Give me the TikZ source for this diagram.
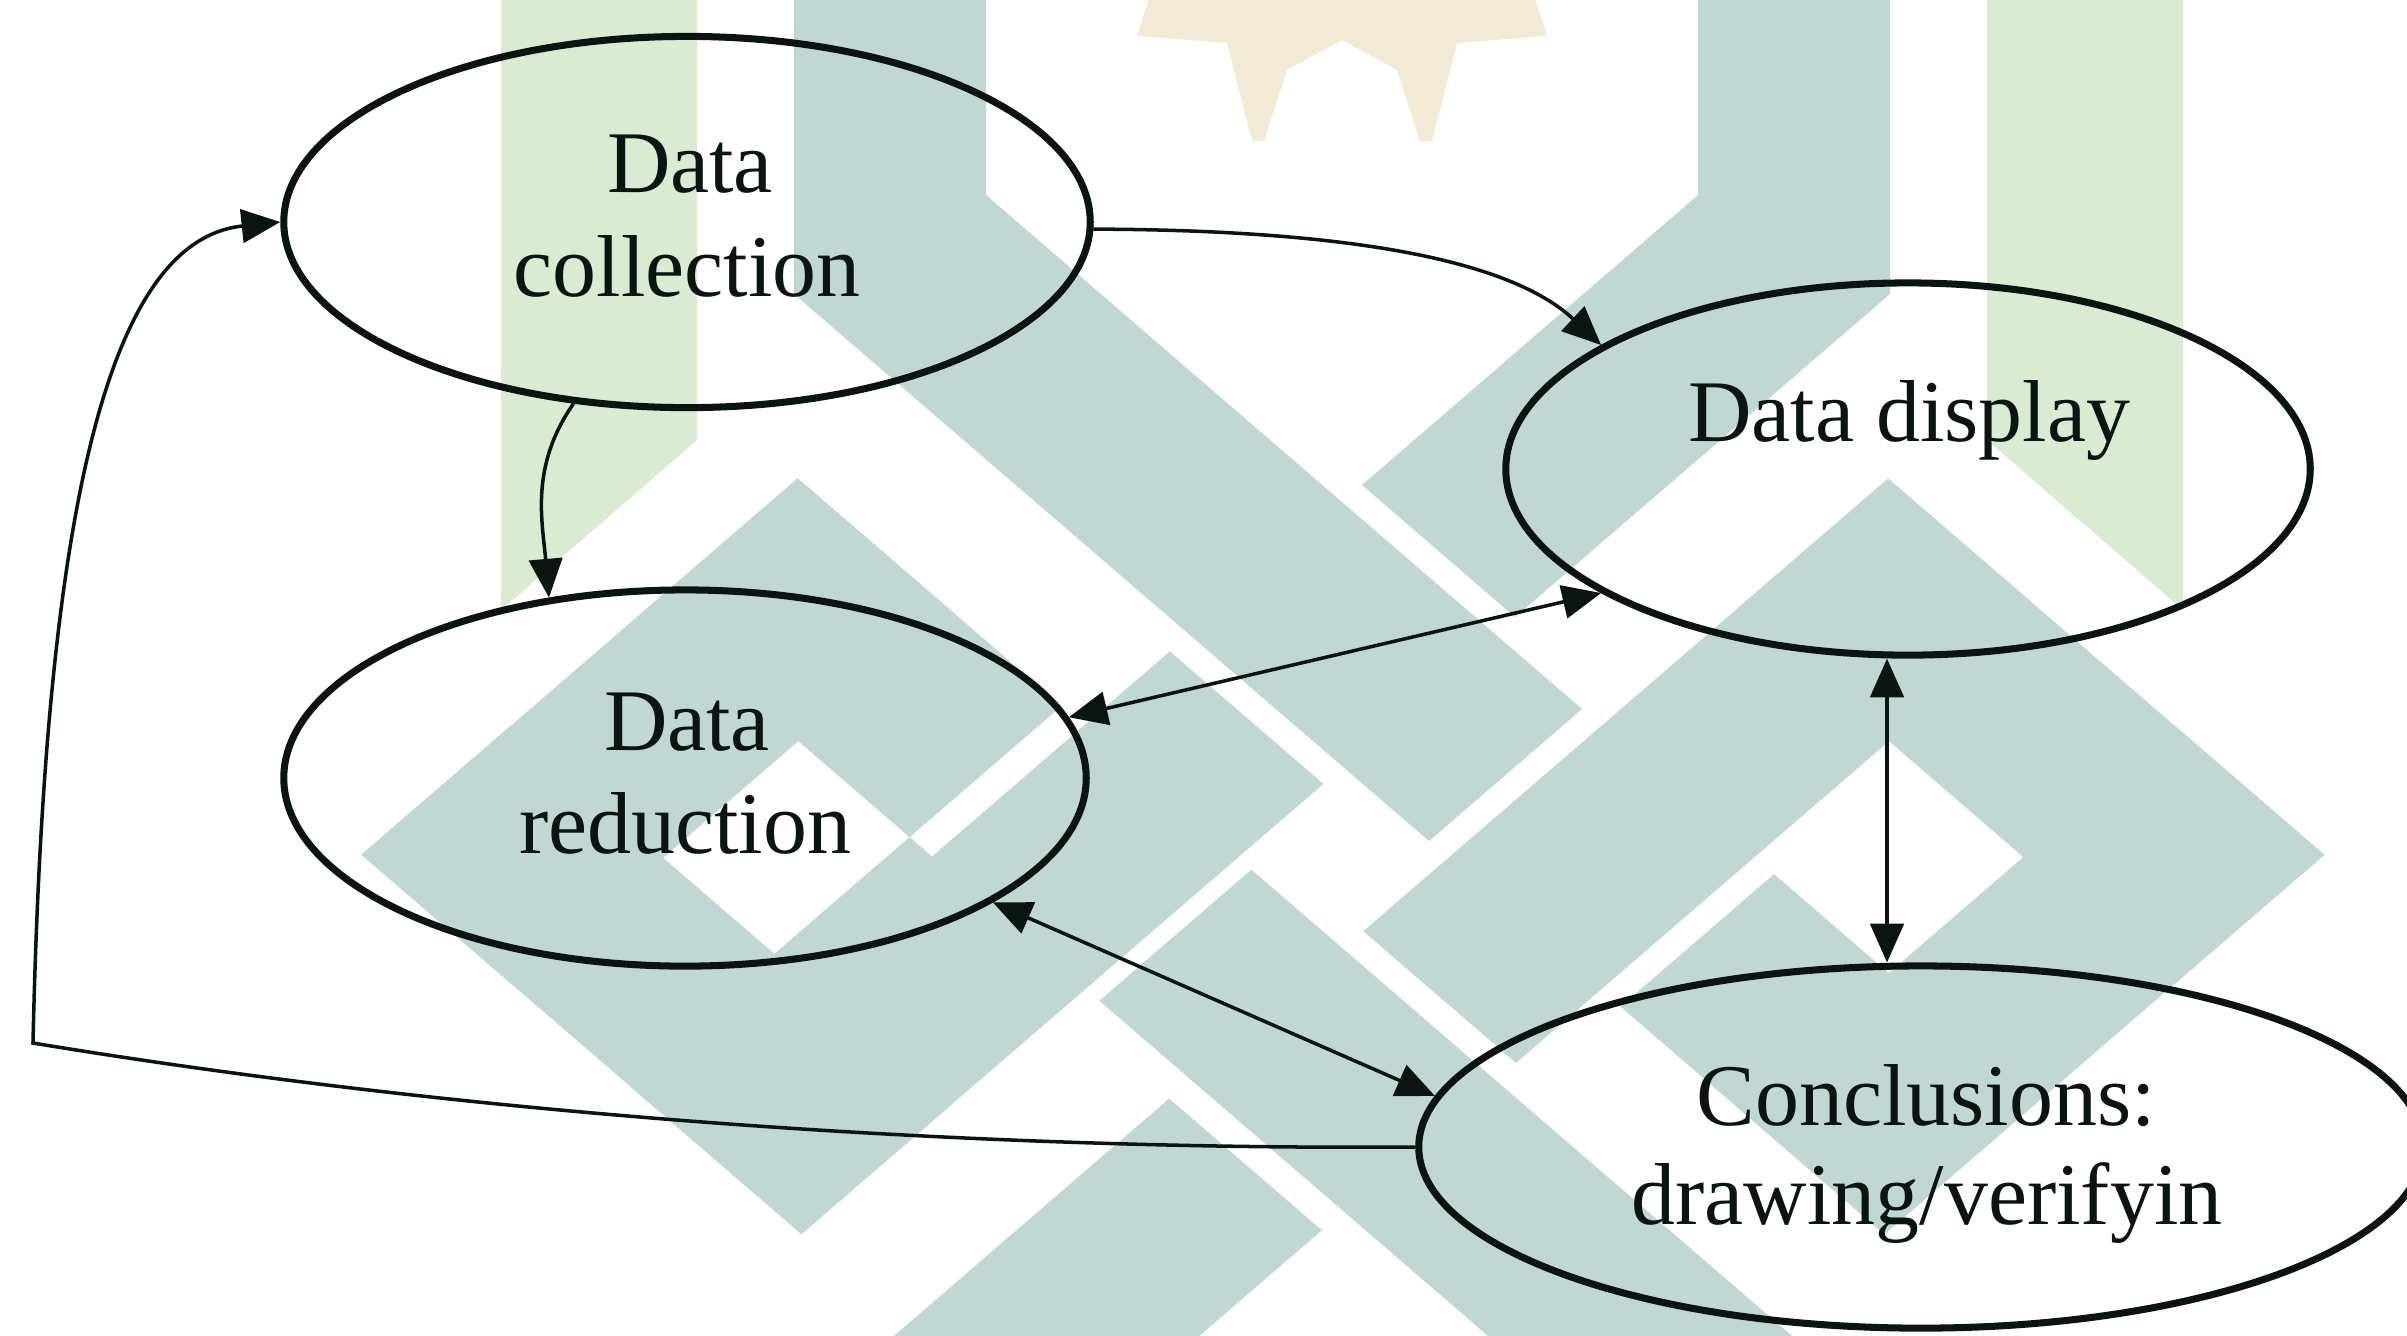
\documentclass[tikz,border=0pt]{standalone}
\usepackage{fontspec}
\setmainfont{Liberation Serif}
\usetikzlibrary{arrows.meta,shapes.geometric}
\definecolor{wmteal}{HTML}{C1D7D4}
\definecolor{wmgreen}{HTML}{D9ECD1}
\definecolor{wmstar}{HTML}{F2EAD5}
\definecolor{ink}{HTML}{0A1410}
\newcommand\uvbox[4]{\fill[wmteal] (#1,#3) -- (#2,#3) -- (#2,#4) -- (#1,#4) -- cycle;}
\begin{document}
\begin{tikzpicture}[x=0.01cm,y=-0.01cm,
  ell/.style={ellipse, draw=ink, line width=2pt, inner sep=0pt},
  lbl/.style={anchor=base, inner sep=0pt, text=ink, font=\fontsize{25}{29}\selectfont},
  conn/.style={draw=ink, line width=1pt},
  tip/.style={-{Triangle[length=11pt,width=9.5pt]}},
  tips/.style={{Triangle[length=11pt,width=9.5pt]}-{Triangle[length=11pt,width=9.5pt]}}]
\useasboundingbox (0,0) rectangle (2407,1335);
\fill[white] (0,0) rectangle (2407,1335);
% ---------- watermark ----------
\begin{scope}
\clip (0,0) rectangle (2407,1335);
\fill[wmgreen] (501,-5) -- (697,-5) -- (697,440) -- (501,610) -- cycle;
\fill[wmgreen] (1987,-5) -- (2183,-5) -- (2183,610) -- (1987,440) -- cycle;
\fill[wmstar] (1150,-5) -- (1137,36) -- (1227,43) -- (1252,141) -- (1264,141) -- (1287,70)
  -- (1342,40) -- (1397,70) -- (1420,141) -- (1432,141) -- (1457,43) -- (1547,36) -- (1534,-5) -- cycle;
\fill[wmteal] (794,-5) -- (986,-5) -- (986,195) -- (1582,709) -- (1429,841) -- (794,294) -- cycle;
\fill[wmteal] (1698,-5) -- (1890,-5) -- (1890,294) -- (1515,617) -- (1362,485) -- (1698,195) -- cycle;
\begin{scope}[x={(2.18cm,-1.88cm)}, y={(-2.18cm,-1.88cm)}]
  \uvbox{3.1}{3.8}{-0.557}{1.443}
  \uvbox{3.1}{4.31}{-0.557}{0.14}
  \uvbox{3.1}{5.117}{0.76}{1.443}
  \uvbox{4.413}{5.117}{-0.95}{1.443}
  \uvbox{4.31}{4.42}{0.14}{1.443}
  \uvbox{5.18}{7.8}{-0.557}{0.14}
  \uvbox{5.6}{6.3}{-3.056}{-0.65}
  \uvbox{5.6}{6.3}{0.24}{2.0}
  \uvbox{5.6}{7.6}{-3.056}{-2.36}
  \uvbox{6.916}{7.6}{-3.056}{-1.039}
  \uvbox{6.39}{7.6}{-1.743}{-1.039}
\end{scope}
\end{scope}
% ---------- diagram ----------
\node[ell, minimum width=8.06cm, minimum height=3.71cm] (dc) at (687,222) {};
\node[ell, minimum width=8.04cm, minimum height=3.72cm] (dd) at (1908,469) {};
\node[ell, minimum width=8.02cm, minimum height=3.76cm] (dr) at (685,778) {};
\node[ell, minimum width=10.04cm, minimum height=3.62cm] (co) at (1921,1147) {};

\node[lbl] (dct1) at (690,192) {Data};
\node[lbl] (dct2) at (687,296) {collection};
\node[lbl] (drt1) at (687,750) {Data};
\node[lbl] (drt2) at (685,853) {reduction};
\node[lbl] (ddt) at (1909,441) {Data display};
\node[lbl] (cot1) at (1926,1125) {Conclusions:};
\node[lbl] (cot2) at (1927,1224) {drawing/verifyin};

\coordinate (vx) at (1887,0);
\coordinate (fb) at (33,1043);

\draw[conn, tip] (dc.238) to[out=235, in=95] (dr.127);
\draw[conn, tip] (dc.-1) .. controls (1350,230) and (1510,260) .. (dd.158);
\draw[conn, tips] (dr.9) -- (dd.202);
\draw[conn, tips] (dr.-22) -- (co.174);
\draw[conn, tips] (dd.south -| vx) -- (co.north -| vx);
\draw[conn, tip] (co.west) .. controls (1000,1150) and (500,1120) .. (fb)
  .. controls (45,500) and (110,240) .. (dc.west);
\end{tikzpicture}
\end{document}
